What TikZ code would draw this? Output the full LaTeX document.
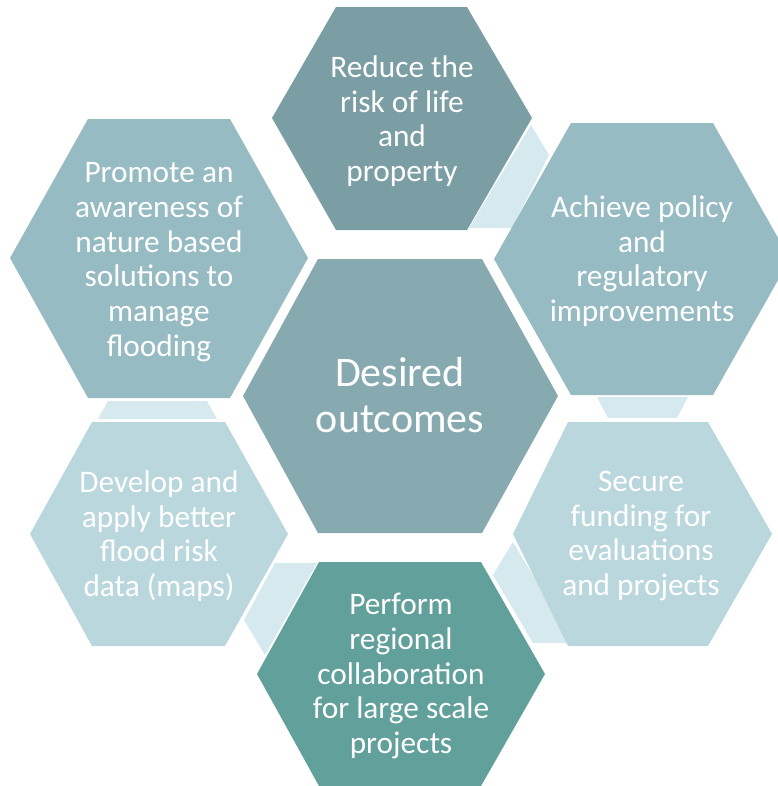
\documentclass[tikz,border=0pt]{standalone}
\usepackage{fontspec}
\setmainfont{Carlito}
\definecolor{reduceC}{RGB}{123,157,164}
\definecolor{centerC}{RGB}{134,170,176}
\definecolor{midC}{RGB}{151,187,195}
\definecolor{paleC}{RGB}{186,215,221}
\definecolor{performC}{RGB}{98,161,155}
\definecolor{linkC}{RGB}{213,233,238}
\begin{document}
\begin{tikzpicture}[x=0.75pt,y=-0.75pt,
  txt/.style={text=white,align=center,font=\fontsize{23.5}{26}\selectfont},
  link/.style={fill=linkC}]
  \useasboundingbox (0,0) rectangle (778,786);
  \clip (0,0) rectangle (778,786);
  % links between the cells
  \fill[link] (531,125) -- (549,155) -- (512,228) -- (469,228) -- cycle;
  \fill[link] (597,397) -- (688,397) -- (677,418) -- (608,418) -- cycle;
  \fill[link] (513,542) -- (573,643) -- (533,643) -- (493,575) -- cycle;
  \fill[link] (275,563) -- (317,563) -- (265,655) -- (244,620) -- cycle;
  \fill[link] (108,401) -- (207,401) -- (217,419) -- (98,419) -- cycle;
  % cells
  \fill[reduceC] (336,7) -- (467,7) -- (532,118) -- (467,230) -- (336,230) -- (272,118) -- cycle;
  \fill[centerC] (318,259) -- (482,259) -- (558,396) -- (482,533) -- (318,533) -- (243,396) -- cycle;
  \fill[midC] (88,119) -- (230,119) -- (308,258) -- (230,398) -- (88,398) -- (10,258) -- cycle;
  \fill[midC] (571,123) -- (713,123) -- (790,259) -- (713,395) -- (571,395) -- (494,259) -- cycle;
  \fill[paleC] (92,422) -- (225,422) -- (288,534) -- (225,646) -- (92,646) -- (30,534) -- cycle;
  \fill[paleC] (568,422) -- (708,422) -- (772,534) -- (708,646) -- (568,646) -- (513,534) -- cycle;
  \fill[performC] (319,562) -- (481,562) -- (545,674) -- (481,786) -- (319,786) -- (257,674) -- cycle;
  % texts
  \node[txt] (reduce) at (402,121) {Reduce the\\risk of life\\and\\property};
  \node[txt] (promote) at (159,262) {Promote an\\awareness of\\nature based\\solutions to\\manage\\flooding};
  \node[txt] (achieve) at (642,261) {Achieve policy\\and\\regulatory\\improvements};
  \node[txt,font=\fontsize{31.5}{35}\selectfont] (outcomes) at (400,395) {Desired\\outcomes};
  \node[txt] (develop) at (159,536) {Develop and\\apply better\\flood risk\\data (maps)};
  \node[txt] (secure) at (641,536) {Secure\\funding for\\evaluations\\and projects};
  \node[txt] (perform) at (401,676) {Perform\\regional\\collaboration\\for large scale\\projects};
\end{tikzpicture}
\end{document}
